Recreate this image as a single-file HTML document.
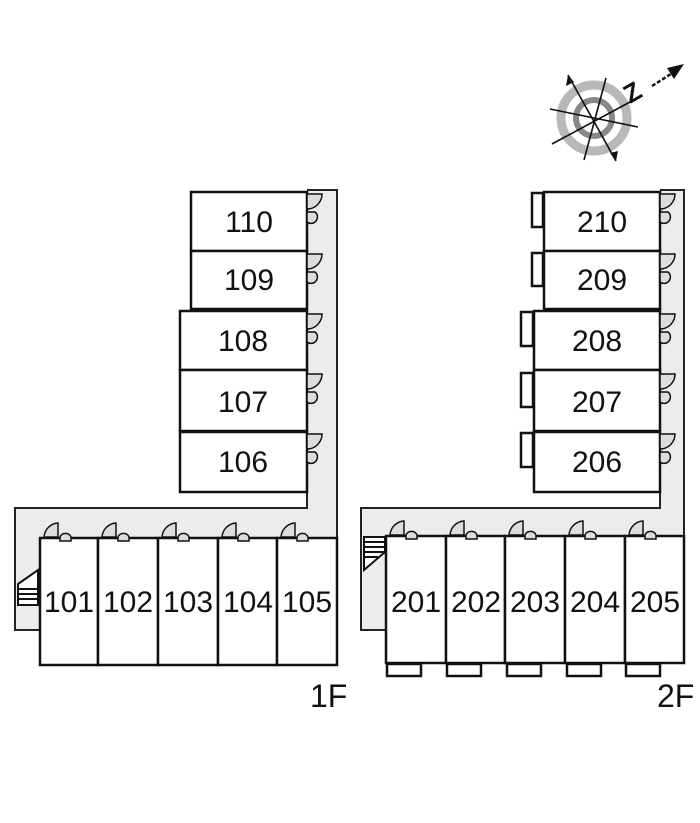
<!DOCTYPE html>
<html><head><meta charset="utf-8"><style>
html,body{margin:0;padding:0;background:#fff;}
svg{display:block;}
text{font-family:"Liberation Sans",sans-serif;fill:#111;}
</style></head><body>
<svg width="700" height="823" viewBox="0 0 700 823" xmlns="http://www.w3.org/2000/svg">
<path d="M307,190 L337,190 L337,538 L40,538 L40,630 L15,630 L15,508 L307,508 Z" fill="#ececec" stroke="none"/>
<path d="M307,190 L337,190 L337,538" fill="none" stroke="#222" stroke-width="2"/>
<path d="M307,492 L307,508 L15,508 L15,630 L40,630" fill="none" stroke="#222" stroke-width="2"/>
<path d="M660,190 L684,190 L684,536 L386,536 L386,630 L361,630 L361,508 L660,508 Z" fill="#ececec" stroke="none"/>
<path d="M660,190 L684,190 L684,536" fill="none" stroke="#222" stroke-width="2"/>
<path d="M660,492 L660,508 L361,508 L361,630 L386,630" fill="none" stroke="#222" stroke-width="2"/>

<g fill="#fff" stroke="#111" stroke-width="2.5">
<rect x="191" y="192" width="116" height="59"/>
<rect x="191" y="251" width="116" height="58"/>
<rect x="180" y="311" width="127" height="59"/>
<rect x="180" y="370" width="127" height="61"/>
<rect x="180" y="432" width="127" height="60"/>
<rect x="40" y="538" width="58" height="127"/>
<rect x="98" y="538" width="60" height="127"/>
<rect x="158" y="538" width="60" height="127"/>
<rect x="218" y="538" width="59" height="127"/>
<rect x="277" y="538" width="60" height="127"/>
<rect x="544" y="192" width="116" height="59"/>
<rect x="544" y="251" width="116" height="58"/>
<rect x="534" y="311" width="126" height="59"/>
<rect x="534" y="370" width="126" height="61"/>
<rect x="534" y="432" width="126" height="60"/>
<rect x="532" y="193" width="11" height="34"/>
<rect x="532" y="253" width="11" height="33"/>
<rect x="521" y="312" width="12" height="34"/>
<rect x="521" y="373" width="12" height="34"/>
<rect x="521" y="433" width="12" height="34"/>
<rect x="386" y="536" width="60" height="127"/>
<rect x="446" y="536" width="59" height="127"/>
<rect x="505" y="536" width="60" height="127"/>
<rect x="565" y="536" width="60" height="127"/>
<rect x="625" y="536" width="59" height="127"/>
<rect x="387" y="664" width="34" height="12"/>
<rect x="447" y="664" width="34" height="12"/>
<rect x="507" y="664" width="34" height="12"/>
<rect x="567" y="664" width="34" height="12"/>
<rect x="626" y="664" width="34" height="12"/>
</g>

<g fill="#ddd" stroke="#111" stroke-width="1.5">
<path d="M307,194 L322,194 A15,15 0 0 1 307,209 Z"/><path d="M307,212 L315,212 A5,5 0 0 1 307,222 Z"/>
<path d="M307,254 L322,254 A15,15 0 0 1 307,269 Z"/><path d="M307,272 L315,272 A5,5 0 0 1 307,282 Z"/>
<path d="M307,314 L322,314 A15,15 0 0 1 307,329 Z"/><path d="M307,332 L315,332 A5,5 0 0 1 307,342 Z"/>
<path d="M307,374 L322,374 A15,15 0 0 1 307,389 Z"/><path d="M307,392 L315,392 A5,5 0 0 1 307,402 Z"/>
<path d="M307,434 L322,434 A15,15 0 0 1 307,449 Z"/><path d="M307,452 L315,452 A5,5 0 0 1 307,462 Z"/>
<path d="M660,194 L675,194 A15,15 0 0 1 660,209 Z"/><path d="M660,212 L668,212 A5,5 0 0 1 660,222 Z"/>
<path d="M660,254 L675,254 A15,15 0 0 1 660,269 Z"/><path d="M660,272 L668,272 A5,5 0 0 1 660,282 Z"/>
<path d="M660,314 L675,314 A15,15 0 0 1 660,329 Z"/><path d="M660,332 L668,332 A5,5 0 0 1 660,342 Z"/>
<path d="M660,374 L675,374 A15,15 0 0 1 660,389 Z"/><path d="M660,392 L668,392 A5,5 0 0 1 660,402 Z"/>
<path d="M660,434 L675,434 A15,15 0 0 1 660,449 Z"/><path d="M660,452 L668,452 A5,5 0 0 1 660,462 Z"/>
<path d="M44,537 A15,15 0 0 1 58,523 L58,537 Z"/><path d="M60,537 A6,6 0 0 1 71,537 L71,541 L60,541 Z"/>
<path d="M102,537 A15,15 0 0 1 116,523 L116,537 Z"/><path d="M118,537 A6,6 0 0 1 129,537 L129,541 L118,541 Z"/>
<path d="M162,537 A15,15 0 0 1 176,523 L176,537 Z"/><path d="M178,537 A6,6 0 0 1 189,537 L189,541 L178,541 Z"/>
<path d="M222,537 A15,15 0 0 1 236,523 L236,537 Z"/><path d="M238,537 A6,6 0 0 1 249,537 L249,541 L238,541 Z"/>
<path d="M281,537 A15,15 0 0 1 295,523 L295,537 Z"/><path d="M297,537 A6,6 0 0 1 308,537 L308,541 L297,541 Z"/>
<path d="M390,535 A15,15 0 0 1 404,521 L404,535 Z"/><path d="M406,535 A6,6 0 0 1 417,535 L417,539 L406,539 Z"/>
<path d="M450,535 A15,15 0 0 1 464,521 L464,535 Z"/><path d="M466,535 A6,6 0 0 1 477,535 L477,539 L466,539 Z"/>
<path d="M509,535 A15,15 0 0 1 523,521 L523,535 Z"/><path d="M525,535 A6,6 0 0 1 536,535 L536,539 L525,539 Z"/>
<path d="M569,535 A15,15 0 0 1 583,521 L583,535 Z"/><path d="M585,535 A6,6 0 0 1 596,535 L596,539 L585,539 Z"/>
<path d="M629,535 A15,15 0 0 1 643,521 L643,535 Z"/><path d="M645,535 A6,6 0 0 1 656,535 L656,539 L645,539 Z"/>
</g>

<g stroke="#111" stroke-width="2" fill="#fff">
<path d="M18,584 L38,570 L38,605 L18,605 Z"/>
<line x1="18" y1="589" x2="38" y2="589"/><line x1="18" y1="594" x2="38" y2="594"/><line x1="18" y1="599" x2="38" y2="599"/>
<path d="M364,537 L385,537 L385,552 L364,570 Z"/>
<line x1="364" y1="542" x2="385" y2="542"/><line x1="364" y1="547" x2="385" y2="547"/><line x1="364" y1="552" x2="385" y2="552"/><line x1="364" y1="557" x2="378" y2="557"/>
</g>

<g font-size="30" text-anchor="middle">
<text x="249" y="232">110</text><text x="249" y="290">109</text><text x="243" y="351">108</text><text x="243" y="412">107</text><text x="243" y="472">106</text>
<text x="69" y="612">101</text><text x="128" y="612">102</text><text x="188" y="612">103</text><text x="248" y="612">104</text><text x="307" y="612">105</text>
<text x="602" y="232">210</text><text x="602" y="290">209</text><text x="597" y="351">208</text><text x="597" y="412">207</text><text x="597" y="472">206</text>
<text x="416" y="612">201</text><text x="476" y="612">202</text><text x="535" y="612">203</text><text x="595" y="612">204</text><text x="655" y="612">205</text>
</g>
<text x="310" y="707" font-size="32">1F</text>
<text x="657" y="707" font-size="32">2F</text>

<g transform="translate(594,118)">
<circle r="33" fill="none" stroke="#b8b8b8" stroke-width="9"/>
<circle r="18" fill="none" stroke="#888" stroke-width="6"/>
<g stroke="#111" stroke-width="1.6">
<line x1="-26" y1="-43" x2="22" y2="43"/>
<line x1="12" y1="-40" x2="-10" y2="42"/>
<line x1="-44" y1="-9" x2="44" y2="9"/>
<line x1="-42" y1="26" x2="36" y2="-16"/>
</g>
<polygon points="-26,-43 -28,-32 -20,-36" fill="#111"/>
<polygon points="22,43 16,35 24,33" fill="#111"/>
<text x="36" y="-14" font-size="26" font-weight="bold" transform="rotate(-30 36 -14)">Z</text>
<line x1="58" y1="-32" x2="80" y2="-46" stroke="#111" stroke-width="2.5" stroke-dasharray="4,2"/>
<polygon points="90,-54 73,-50 80,-39" fill="#111"/>
</g>
</svg>
</body></html>
